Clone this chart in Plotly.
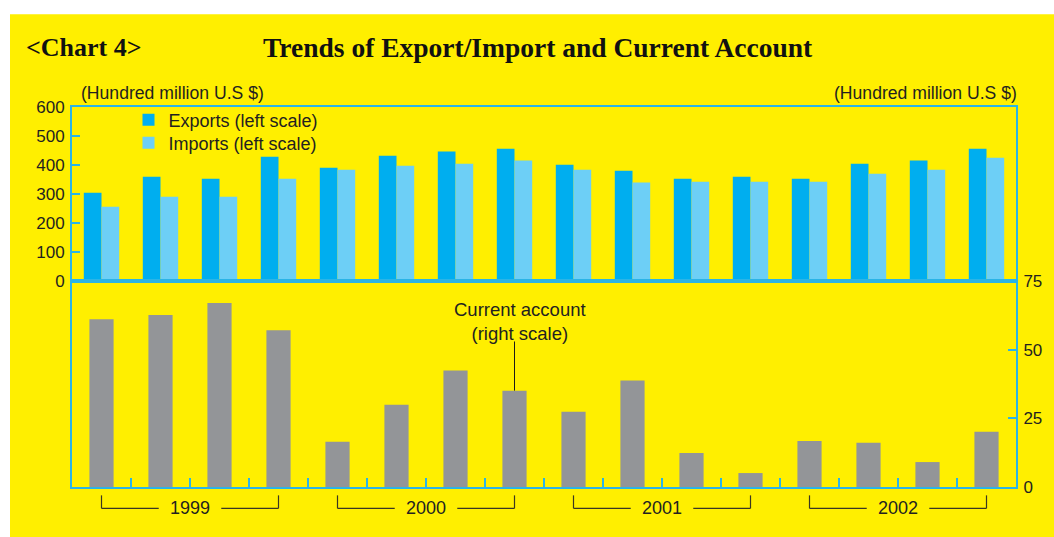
import plotly.graph_objects as go

# ---------------- data ----------------
quarters = [f"{y} Q{q}" for y in (1999, 2000, 2001, 2002) for q in (1, 2, 3, 4)]
years = ["1999", "2000", "2001", "2002"]
exports = [305, 360, 353, 429, 391, 433, 447, 457, 402, 381, 353, 360, 353, 405, 416, 457]
imports = [257, 291, 291, 353, 384, 398, 405, 416, 384, 340, 343, 343, 343, 371, 384, 426]
current_account = [61.1, 62.6, 67.0, 57.1, 16.5, 30.0, 42.4, 35.1, 27.4, 38.8, 12.4, 5.1, 16.8, 16.1, 9.1, 20.1]
left_ticks = [0, 100, 200, 300, 400, 500, 600]
right_ticks = [0, 25, 50, 75]

# ---------------- style ----------------
W, H = 1054, 548
# vertical calibration of the photographed page (observed = A + B * page_y)
A, B = 8.8, 0.967
YELLOW = "#FFEF00"
FRAME = "#2BB4E6"
TXT = "#231F20"
C_EXP = "#00AEEF"
C_IMP = "#6DCFF6"
C_CA = "#939598"
SANS = "Liberation Sans, Arial, sans-serif"
SERIF = "Liberation Serif, Times New Roman, serif"


def px(x):
    return x / W


def py(y):
    return 1 - ((y - A) / B) / H


xdom = [px(72), px(1016)]
top_dom = [py(281.3), py(107.3)]
bot_dom = [py(487.7), py(281.3)]

fig = go.Figure()
fig.add_trace(go.Bar(x=quarters, y=exports, name="Exports (left scale)", marker_color=C_EXP,
                     width=0.3, offset=-0.3, xaxis="x", yaxis="y", marker_line_width=0,
                     legend="legend"))
fig.add_trace(go.Bar(x=quarters, y=imports, name="Imports (left scale)", marker_color=C_IMP,
                     width=0.3, offset=0.0, xaxis="x", yaxis="y", marker_line_width=0,
                     legend="legend2"))
fig.add_trace(go.Bar(x=quarters, y=current_account, name="Current account (right scale)",
                     marker_color=C_CA, width=0.41, xaxis="x2", yaxis="y2",
                     showlegend=False, marker_line_width=0))

axis_common = dict(showline=True, linecolor=FRAME, linewidth=2, mirror=True,
                   showgrid=False, zeroline=False)

shapes = [dict(type="rect", xref="paper", yref="paper", x0=px(10), x1=1, y0=0, y1=py(14),
               fillcolor=YELLOW, line_width=0, layer="below")]

# pointer line for the current-account label
shapes.append(dict(type="line", xref="x2", yref="y2", x0=7, x1=7, y0=current_account[7], y1=53,
                   line=dict(color="#1a1a1a", width=1)))

annotations = [
    dict(text="<b>&lt;Chart 4&gt;</b>", x=px(24), y=py(47), xref="paper", yref="paper",
         xanchor="left", yanchor="middle", showarrow=False,
         font=dict(family=SERIF, size=26, color="#111")),
    dict(text="<b>Trends of Export/Import and Current Account</b>", x=px(538), y=py(47),
         xref="paper", yref="paper", xanchor="center", yanchor="middle", showarrow=False,
         font=dict(family=SERIF, size=27.5, color="#111")),
    dict(text="(Hundred million U.S $)", x=px(79), y=py(93), xref="paper", yref="paper",
         xanchor="left", yanchor="middle", showarrow=False, font=dict(family=SANS, size=17.6, color=TXT)),
    dict(text="(Hundred million U.S $)", x=px(1019), y=py(93), xref="paper", yref="paper",
         xanchor="right", yanchor="middle", showarrow=False, font=dict(family=SANS, size=17.6, color=TXT)),
    dict(text="Current account<br>(right scale)", x=7.09, y=py(322), xref="x2", yref="paper",
         xanchor="center", yanchor="middle", showarrow=False, font=dict(family=SANS, size=18.5, color=TXT)),
]

BR = "#3a3722"
for i, yr in enumerate(years):
    s, e, c = 4 * i, 4 * i + 3, 4 * i + 1.5
    annotations.append(dict(text=yr, x=c, y=py(509), xref="x2", yref="paper", xanchor="center",
                            yanchor="middle", showarrow=False, font=dict(family=SANS, size=18, color=TXT)))
    for (a0, b0, a1, b1) in [(s, 496, s, 509), (s, 509, c - 0.53, 509),
                             (c + 0.53, 509, e, 509), (e, 509, e, 496)]:
        shapes.append(dict(type="line", xref="x2", yref="paper", x0=a0, x1=a1, y0=py(b0), y1=py(b1),
                           line=dict(color=BR, width=1.2)))

legend_style = dict(xanchor="left", yanchor="middle", bgcolor="rgba(0,0,0,0)",
                    font=dict(family=SANS, size=18, color=TXT), tracegroupgap=0)

fig.update_layout(
    width=W, height=H,
    margin=dict(l=0, r=0, t=0, b=0),
    paper_bgcolor="white",
    plot_bgcolor="rgba(0,0,0,0)",
    barmode="overlay",
    font=dict(family=SANS, color=TXT, size=17),
    xaxis=dict(domain=xdom, anchor="y", type="category", showticklabels=False, ticks="",
               **axis_common),
    yaxis=dict(domain=top_dom, anchor="x", range=[0, 600], tickvals=left_ticks, ticks="inside",
               ticklen=8, tickwidth=2, tickcolor=FRAME, side="left", ticklabelstandoff=2,
               tickfont=dict(family=SANS, size=17, color=TXT), **axis_common),
    xaxis2=dict(domain=xdom, anchor="y2", type="category", showticklabels=False, ticks="inside",
                tickson="boundaries", ticklen=9, tickwidth=1.5, tickcolor=FRAME, **axis_common),
    yaxis2=dict(domain=bot_dom, anchor="x2", range=[0, 75], tickvals=right_ticks, ticks="inside",
                ticklen=8, tickwidth=2, tickcolor=FRAME, side="right", ticklabelstandoff=2,
                tickfont=dict(family=SANS, size=17, color=TXT), **axis_common),
    legend=dict(x=px(128.5), y=py(120), **legend_style),
    legend2=dict(x=px(128.5), y=py(143), **legend_style),
    shapes=shapes,
    annotations=annotations,
    showlegend=True,
)

fig.write_html(
    "out.html",
    config={"displayModeBar": False},
    post_script="document.body.style.margin='0';document.documentElement.style.overflow='hidden';",
)
